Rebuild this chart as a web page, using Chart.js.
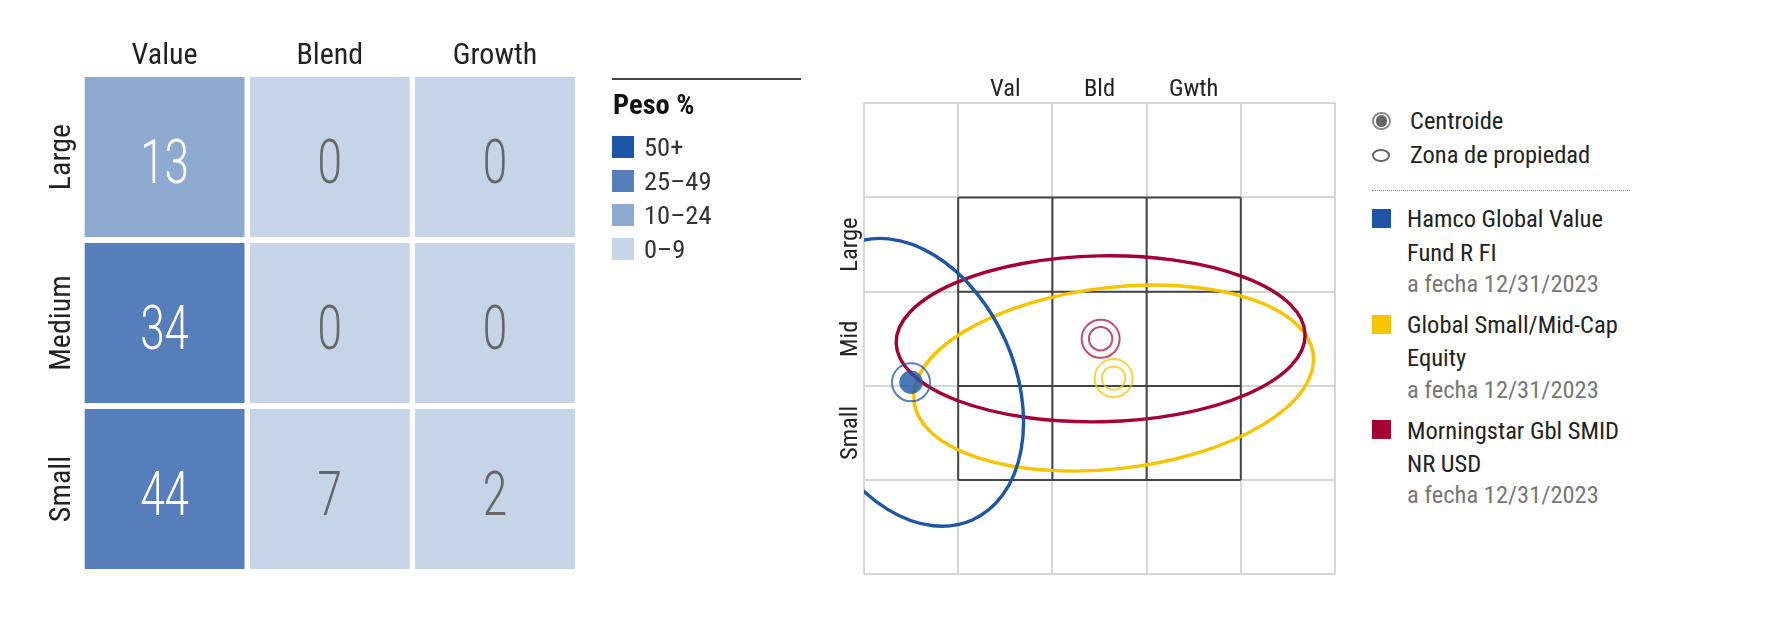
<!DOCTYPE html>
<html lang="es">
<head>
<meta charset="utf-8">
<title>Style box</title>
<script src="https://cdn.jsdelivr.net/npm/chart.js@4/dist/chart.umd.min.js"></script>
<style>
html,body{margin:0;padding:0;background:#fff;width:1786px;height:624px;overflow:hidden}
body{position:relative;font-family:"Roboto Condensed",Roboto,sans-serif;color:#222}
canvas{position:absolute;top:0}
.t{position:absolute;white-space:nowrap;transform:translateY(-50%);line-height:1}
.s{position:absolute}
</style>
</head>
<body>
<canvas id="heat" width="600" height="624" style="left:0;width:600px;height:624px"></canvas>
<canvas id="zone" width="560" height="624" style="left:800px;width:560px;height:624px"></canvas>
<div id="legends"></div>
<script>
const styleLabels = ['Value', 'Blend', 'Growth'];
const capLabels = ['Large', 'Medium', 'Small'];
const largeRow = [13, 0, 0];
const mediumRow = [34, 0, 0];
const smallRow = [44, 7, 2];
const binLabels = ['50+', '25\u201349', '10\u201324', '0\u20139'];
const binColors = ['#1f55a5', '#567ebb', '#8faad1', '#c6d4e7'];
const binFloors = [50, 25, 10, 0];

const zoneXLabels = {150: 'Val', 250: 'Bld', 350: 'Gwth'};
const zoneYLabels = {350: 'Large', 250: 'Mid', 150: 'Small'};
const fundCentroid = [49.9, 203.8];
const categoryCentroid = [265, 208.3];
const indexCentroid = [251.2, 250];
/* ownership zones: half-length, half-width, tilt in degrees (on the style-box units) */
const fundZone = [160, 109.7, -66];
const categoryZone = [213.4, 96.2, 6.7];
const indexZone = [217.1, 88.1, 1.2];

const legendTop = ['Centroide', 'Zona de propiedad'];
const seriesNames = [['Hamco Global Value', 'Fund R FI'], ['Global Small/Mid-Cap', 'Equity'], ['Morningstar Gbl SMID', 'NR USD']];
const seriesDate = 'a fecha 12/31/2023';
const seriesColors = ['#1f55a5', '#f6c500', '#a50034'];

const NARROW = '"Roboto Condensed",Roboto,sans-serif';

function binColor(v){ return binColors[binFloors.findIndex(f => v >= f)]; }
function rowData(row, cap){ return row.map((v, i) => ({x: styleLabels[i], y: cap, v})); }

const cellLabels = {
  id: 'cellLabels',
  afterDatasetsDraw(chart){
    const c = chart.ctx;
    chart.data.datasets.forEach((ds, d) => {
      chart.getDatasetMeta(d).data.forEach((el, i) => {
        const v = ds.data[i].v;
        c.save();
        c.translate(el.x, el.y + 10);
        c.scale(0.71, 1);
        c.font = '300 62px Roboto';
        c.textAlign = 'center';
        c.textBaseline = 'middle';
        c.fillStyle = v >= 10 ? '#ffffff' : '#666666';
        c.fillText(String(v), 0, 0);
        c.restore();
      });
    });
  }
};

new Chart(document.getElementById('heat'), {
  type: 'scatter',
  plugins: [cellLabels],
  data: {
    datasets: [[largeRow, 'Large'], [mediumRow, 'Medium'], [smallRow, 'Small']].map(([row, cap]) => ({
      label: cap,
      data: rowData(row, cap),
      pointStyle: 'rect',
      pointRadius: 113,
      pointBorderWidth: 0,
      pointBackgroundColor: row.map(binColor),
      clip: false
    }))
  },
  options: {
    responsive: false,
    animation: false,
    events: [],
    layout: {autoPadding: false, padding: {top: 0, left: 0, right: 22.4, bottom: 52}},
    plugins: {legend: {display: false}, tooltip: {enabled: false}},
    scales: {
      x: {
        type: 'category', labels: styleLabels, position: 'top', offset: true,
        afterFit(s){ s.height = 74; },
        grid: {display: false}, border: {display: false},
        ticks: {font: {family: NARROW, size: 30}, color: '#222', padding: -8, maxRotation: 0}
      },
      y: {
        type: 'category', labels: capLabels, offset: true,
        afterFit(s){ s.width = 82; },
        grid: {display: false}, border: {display: false},
        ticks: {font: {family: NARROW, size: 30}, color: '#222', minRotation: 90, maxRotation: 90, crossAlign: 'center', padding: -36}
      }
    }
  }
});

const innerLines = [100, 200, 300, 400];
const zoneDraw = {
  id: 'zoneDraw',
  beforeDatasetsDraw(chart){
    const c = chart.ctx, X = chart.scales.x, Y = chart.scales.y, A = chart.chartArea;
    c.save();
    c.strokeStyle = '#444444';
    c.lineWidth = 2;
    innerLines.forEach(v => {
      c.beginPath();
      c.moveTo(X.getPixelForValue(v), Y.getPixelForValue(100));
      c.lineTo(X.getPixelForValue(v), Y.getPixelForValue(400));
      c.moveTo(X.getPixelForValue(100), Y.getPixelForValue(v));
      c.lineTo(X.getPixelForValue(400), Y.getPixelForValue(v));
      c.stroke();
    });
    c.beginPath();
    c.rect(A.left, A.top, A.right - A.left, A.bottom - A.top);
    c.clip();
    const unit = X.getPixelForValue(1) - X.getPixelForValue(0);
    [[categoryCentroid, categoryZone, seriesColors[1]], [indexCentroid, indexZone, seriesColors[2]], [fundCentroid, fundZone, seriesColors[0]]].forEach(([p, z, col]) => {
      c.beginPath();
      c.ellipse(X.getPixelForValue(p[0]), Y.getPixelForValue(p[1]), z[0] * unit, z[1] * unit, -z[2] * Math.PI / 180, 0, Math.PI * 2);
      c.strokeStyle = col;
      c.lineWidth = 3.4;
      c.stroke();
    });
    c.restore();
  }
};
const ring = (label, p, r, color, w, fill) => ({label, data: [{x: p[0], y: p[1]}], pointRadius: r, pointBackgroundColor: fill || 'rgba(0,0,0,0)', pointBorderColor: color, pointBorderWidth: w});

new Chart(document.getElementById('zone'), {
  type: 'scatter',
  plugins: [zoneDraw],
  data: {
    datasets: [
      ring('Global Small/Mid-Cap Equity zone', categoryCentroid, 19, 'rgba(246,197,0,.75)', 2),
      ring('Global Small/Mid-Cap Equity', categoryCentroid, 11.7, 'rgba(246,197,0,.75)', 2),
      ring('Morningstar Gbl SMID NR USD zone', indexCentroid, 19, 'rgba(165,0,52,.7)', 2),
      ring('Morningstar Gbl SMID NR USD', indexCentroid, 11.7, 'rgba(165,0,52,.7)', 2),
      ring('Hamco Global Value Fund R FI zone', fundCentroid, 19, 'rgba(31,85,165,.75)', 2),
      ring('Hamco Global Value Fund R FI', fundCentroid, 11.7, 'rgba(31,85,165,.8)', 0, 'rgba(31,85,165,.8)')
    ]
  },
  options: {
    responsive: false,
    animation: false,
    events: [],
    layout: {autoPadding: false, padding: {top: 0, left: 0, right: 25, bottom: 49.7}},
    plugins: {legend: {display: false}, tooltip: {enabled: false}},
    scales: {
      x: {
        type: 'linear', position: 'top', min: 0, max: 500,
        afterFit(s){ s.height = 103.3; },
        border: {display: false},
        grid: {color: c => c.tick.value % 100 === 0 ? '#d6d6d6' : 'rgba(0,0,0,0)', lineWidth: 2, drawTicks: false},
        ticks: {stepSize: 50, autoSkip: false, maxRotation: 0, padding: -1, color: '#222', font: {family: NARROW, size: 24.5}, callback: v => zoneXLabels[v] || ''}
      },
      y: {
        type: 'linear', min: 0, max: 500,
        afterFit(s){ s.width = 64; },
        border: {display: false},
        grid: {color: c => c.tick.value % 100 === 0 ? '#d6d6d6' : 'rgba(0,0,0,0)', lineWidth: 2, drawTicks: false},
        ticks: {stepSize: 50, autoSkip: false, minRotation: 90, maxRotation: 90, crossAlign: 'center', padding: -14, color: '#222', font: {family: NARROW, size: 24.5}, callback: v => zoneYLabels[v] || ''}
      }
    }
  }
});

/* side legends */
const host = document.getElementById('legends');
function addText(txt, x, y, size, color, weight){
  const d = document.createElement('div');
  d.className = 't';
  d.textContent = txt;
  d.style.cssText = `left:${x}px;top:${y}px;font-size:${size}px;color:${color};font-weight:${weight || 400}`;
  host.appendChild(d);
}
function addShape(x, y, w, h, css){
  const d = document.createElement('div');
  d.className = 's';
  d.style.cssText = `left:${x}px;top:${y}px;width:${w}px;height:${h}px;${css}`;
  host.appendChild(d);
}
addShape(612, 77.5, 189, 2, 'background:#444');
addText('Peso %', 613, 105, 28.5, '#111', 700);
binLabels.forEach((b, i) => {
  addShape(612, 136 + i * 34, 21.5, 21.5, 'background:' + binColors[i]);
  addText(b, 644, 147 + i * 34, 26.5, '#333');
});
addShape(1372, 111.5, 18.5, 18.5, 'box-sizing:border-box;border:2px solid #888;border-radius:50%');
addShape(1375.5, 115, 11.5, 11.5, 'background:#666;border-radius:50%');
addShape(1372, 149, 18, 12.5, 'box-sizing:border-box;border:2px solid #666;border-radius:50%');
addText(legendTop[0], 1410, 121, 24.5, '#222');
addText(legendTop[1], 1410, 155, 24.5, '#222');
addShape(1372, 189.5, 258, 0, 'border-top:1.5px dotted #888');
const seriesY = [[218.9, 253, 283.8], [325, 358, 390], [431, 464, 495]];
const swatchY = [209, 315, 420];
seriesNames.forEach((names, i) => {
  addShape(1372, swatchY[i], 19, 19, 'background:' + seriesColors[i]);
  addText(names[0], 1407, seriesY[i][0], 24.5, '#222');
  addText(names[1], 1407, seriesY[i][1], 24.5, '#222');
  addText(seriesDate, 1407, seriesY[i][2], 24.5, '#777');
});
</script>
</body>
</html>
